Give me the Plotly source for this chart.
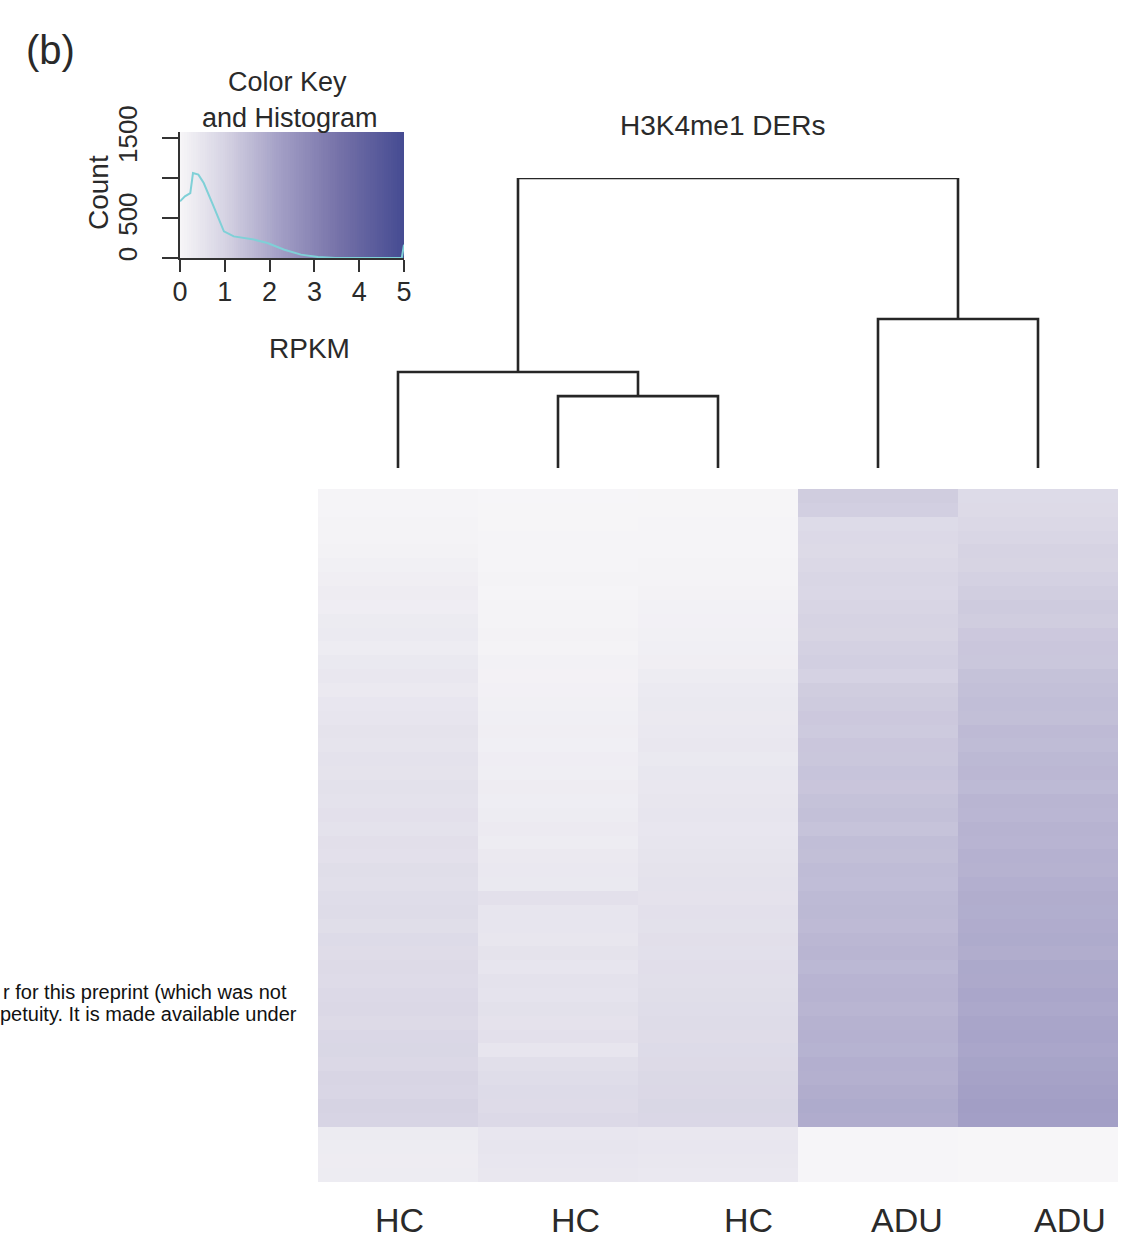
import plotly.graph_objects as go

# ---------------- data ----------------
samples = ["HC", "HC", "HC", "ADU", "ADU"]

# RPKM per region band (top -> bottom), one list per sample
hc1 = [0.05, 0.05, 0.08, 0.10, 0.12, 0.18, 0.22, 0.28, 0.25, 0.32,
       0.35, 0.30, 0.38, 0.42, 0.36, 0.45, 0.50, 0.55, 0.52, 0.58,
       0.55, 0.60, 0.57, 0.62, 0.58, 0.65, 0.62, 0.70, 0.66, 0.72,
       0.75, 0.70, 0.78, 0.74, 0.80, 0.76, 0.82, 0.86, 0.80, 0.88,
       0.90, 0.86, 0.95, 0.92, 1.00, 0.96,
       0.32, 0.30, 0.28, 0.30]
hc2 = [0.02, 0.03, 0.04, 0.05, 0.05, 0.06, 0.08, 0.07, 0.10, 0.09,
       0.12, 0.10, 0.14, 0.13, 0.16, 0.18, 0.20, 0.22, 0.20, 0.25,
       0.24, 0.28, 0.26, 0.30, 0.33, 0.30, 0.36, 0.40, 0.38, 0.62,
       0.48, 0.50, 0.46, 0.55, 0.50, 0.58, 0.54, 0.60, 0.56, 0.62,
       0.50, 0.66, 0.72, 0.78, 0.76, 0.82,
       0.45, 0.48, 0.45, 0.42]
hc3 = [0.03, 0.04, 0.05, 0.06, 0.06, 0.08, 0.10, 0.12, 0.14, 0.16,
       0.18, 0.20, 0.22, 0.30, 0.35, 0.38, 0.36, 0.40, 0.42, 0.38,
       0.44, 0.42, 0.46, 0.48, 0.45, 0.50, 0.52, 0.55, 0.58, 0.56,
       0.62, 0.60, 0.65, 0.63, 0.68, 0.66, 0.70, 0.72, 0.75, 0.74,
       0.78, 0.80, 0.84, 0.86, 0.90, 0.88,
       0.42, 0.45, 0.42, 0.40]
adu1 = [1.15, 1.10, 0.78, 0.82, 0.80, 0.86, 0.92, 0.88, 0.95, 1.00,
        0.98, 1.05, 1.10, 1.02, 1.15, 1.20, 1.25, 1.22, 1.30, 1.28,
        1.35, 1.32, 1.40, 1.45, 1.38, 1.50, 1.48, 1.55, 1.52, 1.60,
        1.62, 1.58, 1.66, 1.70, 1.64, 1.72, 1.75, 1.70, 1.78, 1.80,
        1.76, 1.85, 1.82, 1.90, 1.95, 1.92,
        0.02, 0.02, 0.02, 0.02]
adu2 = [0.78, 0.80, 0.85, 0.92, 1.00, 0.98, 1.05, 1.12, 1.20, 1.15,
        1.25, 1.30, 1.28, 1.40, 1.45, 1.50, 1.48, 1.58, 1.55, 1.62,
        1.65, 1.60, 1.70, 1.68, 1.75, 1.72, 1.80, 1.78, 1.85, 1.90,
        1.88, 1.92, 1.95, 1.90, 2.00, 1.98, 2.05, 2.02, 2.08, 2.10,
        2.06, 2.12, 2.15, 2.20, 2.25, 2.22,
        0.00, 0.00, 0.00, 0.00]

# colour-key histogram (RPKM vs count)
hist_rpkm = [0.0, 0.11, 0.23, 0.29, 0.41, 0.53, 0.75, 0.98, 1.2, 1.65, 1.95,
             2.33, 2.7, 3.08, 3.46, 4.95, 5.0]
hist_count = [708, 770, 812, 1062, 1042, 937, 646, 333, 270, 230, 187,
              104, 42, 12, 0, 0, 167]

# column dendrogram: (left, right, height); leaves are 0..4, merges are 5..
merges = [(1, 2, 0.248), (0, 5, 0.331), (3, 4, 0.514), (6, 7, 1.0)]

key_ticks = [0, 1, 2, 3, 4, 5]
count_ticks = [0, 500, 1000, 1500]
count_text = ["0", "500", "", "1500"]

# ---------------- style ----------------
W, H = 1136, 1243
FONT = "Arial, Liberation Sans, sans-serif"
TXT = "#2a2a2a"
cscale = [[0.0, "#f7f6f8"], [0.2, "#d6d3e3"], [0.45, "#a29ec5"],
          [0.7, "#7773a9"], [1.0, "#454b92"]]

def px(x):
    return x / W

def py(y):
    return 1 - y / H

fig = go.Figure()

# main heatmap
z = [list(r) for r in zip(hc1, hc2, hc3, adu1, adu2)]
fig.add_trace(go.Heatmap(z=z, x=list(range(len(samples))), y=list(range(len(z))),
                         colorscale=cscale, zmin=0, zmax=5, showscale=False,
                         xaxis="x", yaxis="y", hoverinfo="skip"))

# colour key gradient
nk = 100
key_edges = [5 * i / nk for i in range(nk + 1)]
key_mid = [[(key_edges[i] + key_edges[i + 1]) / 2 for i in range(nk)]]
fig.add_trace(go.Heatmap(z=key_mid, x=key_edges, y=[0, 1575], colorscale=cscale,
                         zmin=0, zmax=5, showscale=False, xaxis="x2", yaxis="y2",
                         hoverinfo="skip"))
fig.add_trace(go.Scatter(x=hist_rpkm, y=hist_count, mode="lines",
                         line=dict(color="#7fd0d7", width=2), xaxis="x2", yaxis="y2",
                         hoverinfo="skip", showlegend=False, cliponaxis=False))

# dendrogram
pos = {i: float(i) for i in range(len(samples))}
hgt = {i: 0.0 for i in range(len(samples))}
for k, (a, b, h) in enumerate(merges):
    node = len(samples) + k
    xs = [pos[a], pos[a], pos[b], pos[b]]
    ys = [hgt[a], h, h, hgt[b]]
    fig.add_trace(go.Scatter(x=xs, y=ys, mode="lines",
                             line=dict(color="#262626", width=2.6),
                             xaxis="x3", yaxis="y3", hoverinfo="skip",
                             showlegend=False, cliponaxis=False))
    pos[node] = (pos[a] + pos[b]) / 2
    hgt[node] = h

hm_x = [px(318), px(1118)]
ax_off = dict(visible=False, showgrid=False, zeroline=False, automargin=False)
fig.update_layout(
    template="none",
    width=W, height=H, margin=dict(l=0, r=0, t=0, b=0, pad=0, autoexpand=False),
    paper_bgcolor="white", plot_bgcolor="rgba(0,0,0,0)", showlegend=False,
    font=dict(family=FONT, color=TXT),
    xaxis=dict(domain=hm_x, range=[-0.5, 4.5], **ax_off),
    yaxis=dict(domain=[py(1182), py(489)], range=[len(z) - 0.5, -0.5], **ax_off),
    xaxis2=dict(domain=[px(180), px(404)], range=[0, 5], anchor="y2",
                showline=True, linecolor="#333", linewidth=2, ticks="outside",
                ticklen=12, tickwidth=2, tickcolor="#333", tickvals=key_ticks,
                tickfont=dict(size=27, color=TXT), ticklabelstandoff=-3,
                showgrid=False, zeroline=False, automargin=False),
    yaxis2=dict(domain=[py(258), py(132)], range=[0, 1575], anchor="x2",
                showline=True, linecolor="#333", linewidth=2, ticks="outside",
                ticklen=16, tickwidth=2, tickcolor="#333", tickvals=count_ticks,
                ticktext=count_text, tickangle=-90,
                tickfont=dict(size=26, color=TXT), ticklabelstandoff=15,
                showgrid=False, zeroline=False, automargin=False),
    xaxis3=dict(domain=hm_x, range=[-0.5, 4.5], anchor="y3", **ax_off),
    yaxis3=dict(domain=[py(468), py(178)], range=[0, 1], anchor="x3", **ax_off),
)

ann = [
    dict(text="(b)", x=px(50), y=py(50), size=40),
    dict(text="Color Key", x=px(287), y=py(82), size=27),
    dict(text="and Histogram", x=px(290), y=py(118), size=27),
    dict(text="RPKM", x=px(309), y=py(348), size=28),
    dict(text="H3K4me1 DERs", x=px(722), y=py(125), size=28),
]
for a in ann:
    fig.add_annotation(text=a["text"], x=a["x"], y=a["y"], xref="paper", yref="paper",
                       showarrow=False, xanchor="center", yanchor="middle",
                       font=dict(size=a["size"], family=FONT, color=TXT))
fig.add_annotation(text="Count", x=px(98), y=py(193), xref="paper", yref="paper",
                   showarrow=False, textangle=-90, xanchor="center", yanchor="middle",
                   font=dict(size=28, family=FONT, color=TXT))

# sample labels under columns
label_shift = [0.01, 0.11, 0.19, 0.18, 0.2]
for i, s in enumerate(samples):
    fig.add_annotation(text=s, x=i + label_shift[i], y=py(1220), xref="x", yref="paper",
                       showarrow=False, xanchor="center", yanchor="middle",
                       font=dict(size=34, family=FONT, color=TXT))

# cut-off preprint text at left
fig.add_annotation(text="r for this preprint (which was not", x=px(1), y=py(992),
                   xref="paper", yref="paper", showarrow=False, xanchor="left",
                   yanchor="middle", font=dict(size=20, family=FONT, color="#111"))
fig.add_annotation(text="petuity. It is made available under", x=px(-2), y=py(1014),
                   xref="paper", yref="paper", showarrow=False, xanchor="left",
                   yanchor="middle", font=dict(size=20, family=FONT, color="#111"))

fig.write_html("out.html",
               config={"displayModeBar": False},
               post_script="document.body.style.margin='0';"
                           "document.body.style.padding='0';"
                           "document.body.style.overflow='hidden';")
